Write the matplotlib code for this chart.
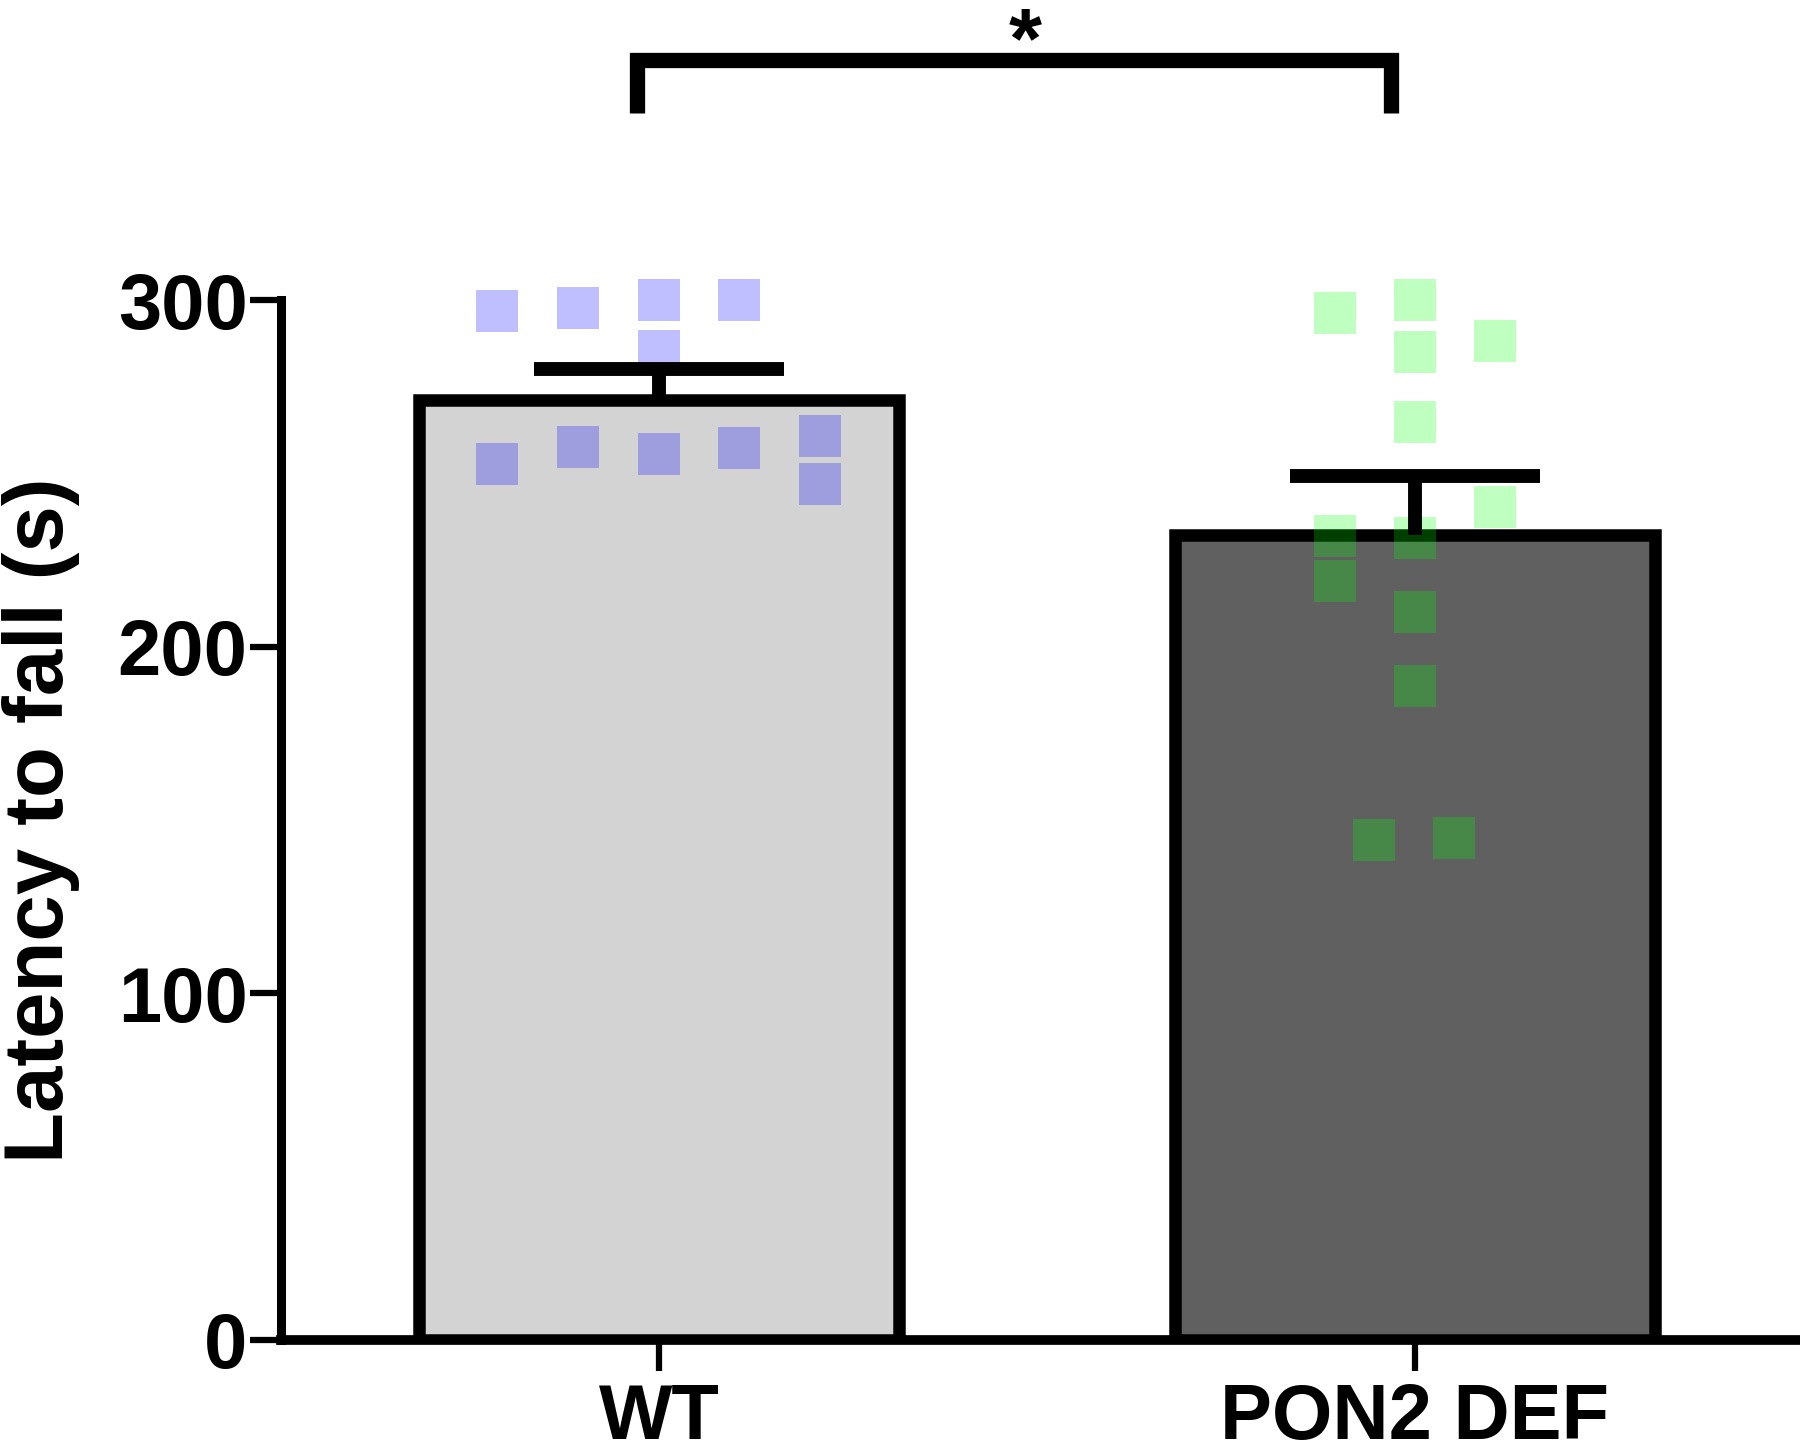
import matplotlib
matplotlib.use("Agg")
import matplotlib.pyplot as plt

# ---------------------------------------------------------------------------
# Data
# ---------------------------------------------------------------------------
groups = ["WT", "PON2 DEF"]
bar_means = [271.4, 232.3]
bar_sems = [8.7, 16.9]
bar_colors = ["#d3d3d3", "#606060"]
point_colors = ["#0000ff", "#00ff00"]

# individual animals: x offset from group centre, latency (s)
wt_dx = [-0.214, -0.107, 0.0, 0.106, 0.0, -0.214, -0.107, 0.0, 0.106, 0.213, 0.213]
wt_y = [297.0, 297.8, 300.0, 300.0, 285.3, 252.8, 257.7, 255.8, 257.4, 260.8, 246.9]

pon_dx = [-0.106, 0.0, 0.0, 0.106, 0.0, 0.106, -0.106, -0.106, 0.0, 0.0, 0.0, -0.054, 0.052]
pon_y = [296.5, 300.0, 285.1, 288.3, 264.8, 240.5, 232.0, 219.0, 231.5, 210.2, 188.6, 144.4, 144.9]

y_ticks = [0, 100, 200, 300]
sig_label = "*"
sig_bracket_x = [-0.029, 0.968]
sig_bracket_y = [354.1, 369.3]
sig_label_x = 0.484

plt.rcParams["font.family"] = ["Liberation Sans", "DejaVu Sans"]
plt.rcParams["font.weight"] = "bold"

fig = plt.figure(figsize=(18, 14.56), dpi=100)
ax = fig.add_axes([0.1561, 0.0797, 0.842, 0.9203])

x = list(range(len(groups)))

# bars
ax.bar(x, bar_means, width=0.635, color=bar_colors, edgecolor="black",
       linewidth=9, zorder=1)

# points
for xi, dx, ys, c in [(0, wt_dx, wt_y, point_colors[0]),
                      (1, pon_dx, pon_y, point_colors[1])]:
    ax.scatter([xi + d for d in dx], ys, marker="s", s=30 ** 2, color=c,
               alpha=0.25, linewidths=0, zorder=2)

# error bars (upper only, no cap at the bar top)
_, caps, _ = ax.errorbar(x, bar_means, yerr=[[0, 0], bar_sems], fmt="none",
                         ecolor="black", elinewidth=10, capsize=90,
                         capthick=10, zorder=3)
for cap in caps:
    if list(cap.get_ydata()) == list(bar_means):
        cap.set_visible(False)

# significance bracket
bx0, bx1 = sig_bracket_x
by0, by1 = sig_bracket_y
ax.plot([bx0, bx0, bx1, bx1], [by0, by1, by1, by0], color="black", lw=11,
        solid_joinstyle="miter", solid_capstyle="butt", clip_on=False, zorder=4)
ax.text(sig_label_x, 367.3, sig_label, ha="center", va="baseline",
        fontsize=61, fontweight="bold", clip_on=False)

# axes styling
ax.set_xlim(-0.5, 1.505)
ax.set_ylim(0, 386.7)
ax.set_xticks(x)
ax.set_xticklabels(groups)
ax.set_yticks(y_ticks)
for sp in ["top", "right"]:
    ax.spines[sp].set_visible(False)
ax.spines["left"].set_bounds(0, 300)
ax.spines["left"].set_linewidth(6.5)
ax.spines["bottom"].set_linewidth(7)
ax.tick_params(axis="both", length=22, width=4.5, labelsize=56)
ax.tick_params(axis="y", pad=2)
ax.tick_params(axis="x", pad=8)

ax.set_ylabel("Latency to fall (s)", fontsize=60, fontweight="bold")
ax.yaxis.set_label_coords(-0.1326, 0.388)

fig.savefig("out.png", dpi=100)
